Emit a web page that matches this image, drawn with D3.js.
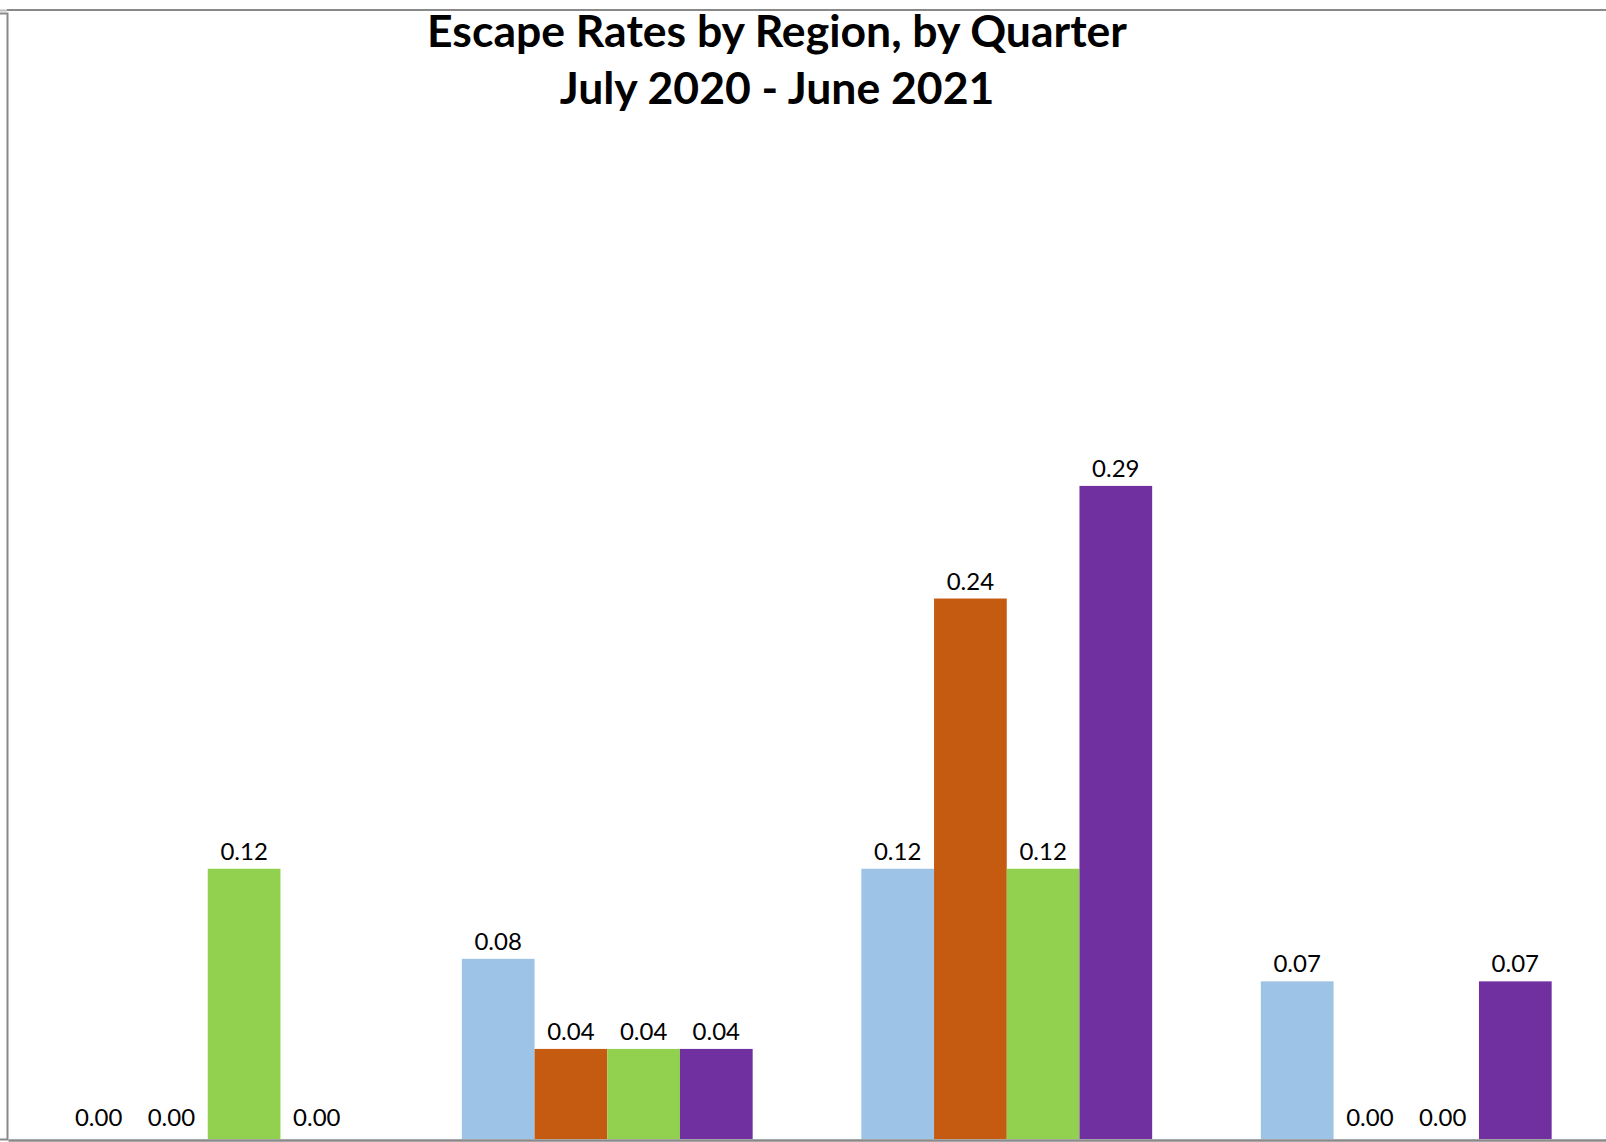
<!DOCTYPE html>
<html>
<head>
<meta charset="utf-8">
<script src="https://cdn.jsdelivr.net/npm/d3@7"></script>
<style>
  html, body { margin: 0; padding: 0; background: #fff; }
  svg { display: block; }
</style>
</head>
<body>
<svg id="chart" width="1606" height="1142"></svg>
<script>
// ---- data ----
const groups = ["Region 1", "Region 2", "Region 3", "Region 4"];
const series = ["Q1 (Jul-Sep 2020)", "Q2 (Oct-Dec 2020)", "Q3 (Jan-Mar 2021)", "Q4 (Apr-Jun 2021)"];
const seriesColors = ["#9DC3E6", "#C55A11", "#92D050", "#7030A0"];
const values = [
  [0.00, 0.00, 0.12, 0.00],
  [0.08, 0.04, 0.04, 0.04],
  [0.12, 0.24, 0.12, 0.29],
  [0.07, 0.00, 0.00, 0.07]
];
const yDomain = [0, 0.5];
const titleLines = ["Escape Rates by Region, by Quarter", "July 2020 - June 2021"];

// ---- layout ----
const svg = d3.select("#chart");
const plot = { left: 8, right: 1606, top: 13, bottom: 1139 };

const x0 = d3.scaleBand().domain(groups)
  .range([plot.left, plot.right])
  .paddingInner(0.272).paddingOuter(0.136);
const x1 = d3.scaleBand().domain(series).range([0, x0.bandwidth()]).padding(0);
const y = d3.scaleLinear().domain(yDomain).range([plot.bottom, plot.top]);
const color = d3.scaleOrdinal().domain(series).range(seriesColors);

const flat = [];
groups.forEach((g, gi) => series.forEach((s, si) => flat.push({ g, s, v: values[gi][si] })));

// bars
svg.append("g").selectAll("rect").data(flat).join("rect")
  .attr("x", d => x0(d.g) + x1(d.s))
  .attr("y", d => y(d.v))
  .attr("width", x1.bandwidth())
  .attr("height", d => y(0) - y(d.v))
  .attr("fill", d => color(d.s));

// frame lines (top border, y axis, x axis)
svg.append("line").attr("x1", plot.left - 1).attr("x2", plot.right)
  .attr("y1", 10).attr("y2", 10).attr("stroke", "#898989").attr("stroke-width", 2);

const yAxis = svg.append("g").attr("transform", `translate(${plot.left - 1},0)`)
  .call(d3.axisLeft(y).tickValues([yDomain[1]]).tickSize(7).tickFormat(""));
yAxis.select(".domain").attr("stroke", "#898989").attr("stroke-width", 2);
yAxis.selectAll(".tick line").attr("stroke", "#bdbdbd").attr("stroke-width", 2)
  .attr("transform", "translate(0,-3)");

const xAxis = svg.append("g").attr("transform", `translate(0,${plot.bottom + 1})`)
  .call(d3.axisBottom(x0).tickSize(0).tickFormat(""));
xAxis.select(".domain").attr("stroke", "#898989").attr("stroke-width", 2.5);

// data labels
svg.append("g").selectAll("text").data(flat).join("text")
  .attr("x", d => x0(d.g) + x1(d.s) + x1.bandwidth() / 2)
  .attr("y", d => y(d.v) - (d.v === 0 ? 13 : 9))
  .attr("text-anchor", "middle")
  .attr("font-family", "Lato, 'Open Sans', sans-serif")
  .attr("font-size", 24)
  .attr("fill", "#000")
  .text(d => d3.format(".2f")(d.v));

// title
const title = svg.append("g");
titleLines.forEach((t, i) => {
  title.append("text")
    .attr("x", 777)
    .attr("y", 47 + i * 57)
    .attr("text-anchor", "middle")
    .attr("font-family", "Lato, 'Open Sans', sans-serif")
    .attr("font-weight", "bold")
    .attr("font-size", 40)
    .attr("fill", "#000")
    .text(t);
});
// fit first title line to reference width (~700px)
const t0 = title.select("text").node();
const w = t0.getComputedTextLength();
const fs = 40 * 700 / w;
title.selectAll("text").attr("font-size", fs);
</script>
</body>
</html>
